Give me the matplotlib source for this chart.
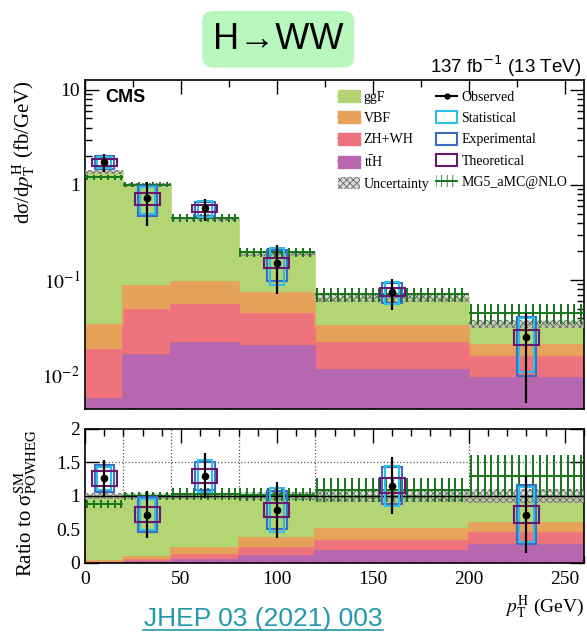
import matplotlib
matplotlib.use('Agg')
import matplotlib.pyplot as plt
import matplotlib.ticker as mticker
from matplotlib.patches import Patch
from matplotlib.lines import Line2D
import numpy as np

plt.rcParams['font.family'] = ['Liberation Serif', 'DejaVu Serif']
plt.rcParams['mathtext.fontset'] = 'stix'
plt.rcParams['hatch.linewidth'] = 0.6

# pT^H bins (GeV); last bin is open-ended
bin_edges = [0, 20, 45, 80, 120, 200, 300]
obs_x = [10, 32.5, 62.5, 100, 160, 230]

# POWHEG prediction per production mode, dsigma/dpT (fb/GeV)
xs_ggF = [1.337, 0.914, 0.341, 0.120, 0.0324, 0.0141]
xs_VBF = [0.0151, 0.0385, 0.0414, 0.0289, 0.0112, 0.0051]
xs_VH = [0.0127, 0.0319, 0.0329, 0.0235, 0.0103, 0.0062]
xs_ttH = [0.0056, 0.0161, 0.0217, 0.0200, 0.0113, 0.0094]
pred_unc = [0.05, 0.05, 0.05, 0.06, 0.09, 0.10]   # relative

# observed dsigma/dpT (fb/GeV)
obs = [1.73, 0.724, 0.568, 0.152, 0.0753, 0.0251]
# uncertainties, in units of the ratio to POWHEG
err_tot = [0.27, 0.355, 0.335, 0.42, 0.42, 0.575]
err_stat = [0.17, 0.23, 0.24, 0.33, 0.30, 0.41]
err_exp = [0.20, 0.255, 0.21, 0.28, 0.28, 0.44]
err_theo = [0.11, 0.105, 0.10, 0.10, 0.117, 0.13]

# MG5_aMC@NLO, ratio to POWHEG
mg5_ratio = [0.88, 1.00, 1.03, 1.02, 1.09, 1.30]
mg5_unc = [0.06, 0.06, 0.09, 0.10, 0.17, 0.24]

c_ggF = '#b3d574'
c_VBF = '#e6a259'
c_VH = '#ee737d'
c_ttH = '#b667b0'
c_stat = '#2bbfe9'
c_exp = '#3c6ec6'
c_theo = '#6b1670'
c_mg5 = '#17751a'
c_unc = '#666666'

edges = np.array(bin_edges, dtype=float)
ttH = np.array(xs_ttH)
vh_top = ttH + np.array(xs_VH)
vbf_top = vh_top + np.array(xs_VBF)
total = vbf_top + np.array(xs_ggF)
unc = np.array(pred_unc)
obs = np.array(obs)
mg5_r = np.array(mg5_ratio)
mg5_u = np.array(mg5_unc)

fig = plt.figure(figsize=(5.87, 6.33), dpi=100)
ax1 = fig.add_axes([0.1448, 0.3539, 0.8501, 0.5198])
ax2 = fig.add_axes([0.1448, 0.1106, 0.8501, 0.2117])


def draw_panel(ax, scale, floor):
    layers = [(floor, ttH, c_ttH), (ttH, vh_top, c_VH),
              (vh_top, vbf_top, c_VBF), (vbf_top, total, c_ggF)]
    for lo, hi, col in layers:
        lo_s = lo / scale if np.ndim(lo) else lo
        ax.stairs(hi / scale, edges, baseline=lo_s, fill=True,
                  facecolor=col, edgecolor=col, lw=0, zorder=2)
        ax.stairs(hi / scale, edges, color=col, lw=1.2, zorder=2.1)
    # prediction uncertainty
    ref = total / scale
    ax.stairs(ref * (1 + unc), edges, baseline=ref * (1 - unc), fill=True,
              facecolor=(0.75, 0.75, 0.75, 0.55), edgecolor=c_unc,
              hatch='xxxxx', lw=0, zorder=3)
    # MG5 band: vertical hatch lines + central line
    mg5 = mg5_r * total / scale
    for i in range(len(obs_x)):
        xs = np.arange(edges[i] + 1.0, edges[i + 1], 3.6)
        ax.vlines(xs, mg5[i] * (1 - mg5_u[i]), mg5[i] * (1 + mg5_u[i]),
                  color=c_mg5, lw=1.4, zorder=3.5)
    ax.hlines(mg5, edges[:-1], edges[1:], color=c_mg5, lw=1.4, zorder=3.6)
    # data boxes
    val = obs / scale
    k = total / scale
    for err, w, col in [(err_exp, 10, c_exp), (err_stat, 7.5, c_stat),
                        (err_theo, 13, c_theo)]:
        e = np.array(err) * k
        ax.bar(obs_x, 2 * e, bottom=val - e, width=w, fill=False,
               edgecolor=col, lw=1.5, zorder=4)
    ax.errorbar(obs_x, val, yerr=np.array(err_tot) * k, fmt='o', color='k',
                ms=4.5, lw=1.6, capsize=0, zorder=5)


draw_panel(ax1, 1.0, 1e-5)
draw_panel(ax2, total, 0.0)
ax2.axhline(1.0, color='k', lw=1.0, zorder=3.7)
for e in edges[1:-1]:
    ax2.axvline(e, color='#555555', ls=':', lw=0.9, zorder=1)
ax2.axhline(1.5, color='#555555', ls=':', lw=0.9, zorder=1)

# axes styling
ax1.set_yscale('log')
ax1.set_ylim(0.0044, 12.7)
ax1.set_yticks([0.01, 0.1, 1, 10])
ax1.set_yticklabels(['$10^{-2}$', '$10^{-1}$', '1', '10'])
ax1.yaxis.set_minor_locator(mticker.LogLocator(base=10, subs=np.arange(2, 10)))
ax1.yaxis.set_minor_formatter(mticker.NullFormatter())
ax1.xaxis.set_major_locator(mticker.MultipleLocator(50))
ax1.xaxis.set_minor_locator(mticker.MultipleLocator(25))

ax2.set_ylim(0, 2)
ax2.set_yticks([0, 0.5, 1, 1.5, 2])
ax2.set_yticklabels(['0', '0.5', '1', '1.5', '2'])
ax2.xaxis.set_major_locator(mticker.MultipleLocator(50))
ax2.xaxis.set_minor_locator(mticker.MultipleLocator(10))

for ax in (ax1, ax2):
    ax.set_xlim(0, 260)
    ax.tick_params(which='both', direction='in', top=True, right=True,
                   labelsize=14, width=1.0)
    ax.tick_params(which='major', length=10)
    ax.tick_params(which='minor', length=5)
    for s in ax.spines.values():
        s.set_linewidth(1.2)
ax1.tick_params(axis='x', labelbottom=False)
ax2.tick_params(axis='x', pad=6)

ax1.set_ylabel('d\u03c3/d$p_{\\rm T}^{\\rm H}$ (fb/GeV)', fontsize=15,
               loc='top')
ax1.yaxis.set_label_coords(-0.097, 1.0)
ax2.set_ylabel('Ratio to \u03c3$^{\\rm SM}_{\\rm POWHEG}$', fontsize=15,
               loc='top')
ax2.yaxis.set_label_coords(-0.092, 1.0)
ax2.set_xlabel('$p_{\\rm T}^{\\rm H}$ (GeV)', fontsize=14, loc='right')

ax1.text(0.04, 0.948, 'CMS', transform=ax1.transAxes, fontsize=13,
         fontweight='bold', family='Liberation Sans', va='center')


# legend
def lf(col):
    return (Patch(facecolor=col, edgecolor=col),
            Line2D([], [], color=col, lw=1.2))


handles = [lf(c_ggF), lf(c_VBF), lf(c_VH), lf(c_ttH),
           Patch(facecolor=(0.75, 0.75, 0.75, 0.55), edgecolor=c_unc,
                 hatch='xxxxx', lw=0),
           Line2D([], [], color='k', marker='o', ms=3.5, lw=1.5),
           Patch(facecolor='none', edgecolor=c_stat, lw=1.5),
           Patch(facecolor='none', edgecolor=c_exp, lw=1.5),
           Patch(facecolor='none', edgecolor=c_theo, lw=1.5),
           (Patch(facecolor='none', edgecolor=c_mg5, hatch='|||', lw=0),
            Line2D([], [], color=c_mg5, lw=1.4))]
labels = ['ggF', 'VBF', 'ZH+WH', 't$\\bar{\\rm t}$H', 'Uncertainty',
          'Observed', 'Statistical', 'Experimental', 'Theoretical',
          'MG5_aMC@NLO']
ax1.legend(handles, labels, ncol=2, loc='upper left',
           bbox_to_anchor=(0.507, 0.969), frameon=False, fontsize=10,
           handlelength=1.55, handleheight=0.95, handletextpad=0.3,
           labelspacing=0.54, columnspacing=0.45, borderaxespad=0.0,
           borderpad=0.0)

fig.text(0.99, 0.884, '137 fb$^{-1}$ (13 TeV)', family='Liberation Sans',
         fontsize=13.5, ha='right', va='baseline',
         math_fontfamily='dejavusans')

fig.text(0.474, 0.938, 'H\u2192WW', family=['Liberation Sans', 'DejaVu Sans'],
         fontsize=26, ha='center', va='center',
         bbox=dict(boxstyle='round,pad=0.3,rounding_size=0.3',
                   facecolor='#b7f7bd', edgecolor='none'))

fig.text(0.448, 0.0115, 'JHEP 03 (2021) 003', family='Liberation Sans',
         fontsize=19, ha='center', va='baseline', color='#2299ad')
fig.add_artist(Line2D([0.243, 0.653], [0.004, 0.004], color='#2299ad',
                      lw=1.2, transform=fig.transFigure))

fig.savefig('out.png', dpi=100)
